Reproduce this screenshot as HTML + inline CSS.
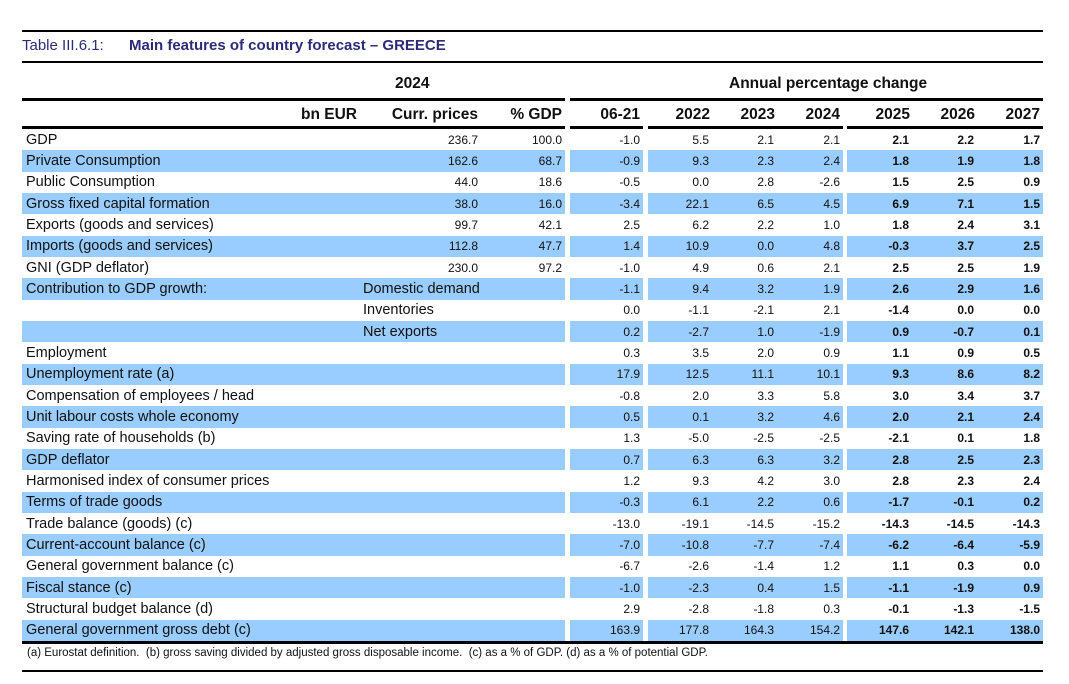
<!DOCTYPE html>
<html><head><meta charset="utf-8"><style>
body{margin:0;background:#fff;width:1069px;height:684px;position:relative;overflow:hidden;font-family:"Liberation Sans",sans-serif;color:#111}
.a{position:absolute}
.ln{position:absolute;background:#000}
table{position:absolute;left:22px;top:129px;border-collapse:collapse;table-layout:fixed}
td{height:21.33px;padding:0;font-size:12px;text-align:right;white-space:nowrap;overflow:visible;line-height:16px;vertical-align:middle}
td.l{text-align:left;font-size:14.5px;padding-left:4px}
td.g{background:#fff!important}
tr.b td{background:#99ccff}
td.f{font-weight:bold}
td.n{padding-right:3px}
.h{font-weight:bold;font-size:15.5px}
</style></head><body>
<div class="ln" style="left:22px;top:30px;width:1021px;height:2px"></div>
<div class="a" style="left:22px;top:37px;font-size:15px;color:#2b2b7a">Table III.6.1:</div>
<div class="a" style="left:129px;top:37px;font-size:15px;font-weight:bold;color:#2b2b7a">Main features of country forecast – GREECE</div>
<div class="ln" style="left:22px;top:61px;width:1021px;height:2px"></div>
<div class="a h" style="left:395px;top:75px">2024</div>
<div class="a h" style="left:729px;top:75px">Annual percentage change</div>
<div class="ln" style="left:22px;top:98px;width:543px;height:3px"></div>
<div class="ln" style="left:570px;top:98px;width:473px;height:3px"></div>
<div class="a h" style="left:22px;top:106px;width:335px;text-align:right">bn EUR</div>
<div class="a h" style="left:357px;top:106px;width:121px;text-align:right">Curr. prices</div>
<div class="a h" style="left:481px;top:106px;width:81px;text-align:right">% GDP</div>
<div class="a h" style="left:570px;top:106px;width:70px;text-align:right">06-21</div>
<div class="a h" style="left:648px;top:106px;width:62px;text-align:right">2022</div>
<div class="a h" style="left:712px;top:106px;width:63px;text-align:right">2023</div>
<div class="a h" style="left:777px;top:106px;width:63px;text-align:right">2024</div>
<div class="a h" style="left:847px;top:106px;width:63px;text-align:right">2025</div>
<div class="a h" style="left:912px;top:106px;width:63px;text-align:right">2026</div>
<div class="a h" style="left:977px;top:106px;width:63px;text-align:right">2027</div>
<div class="ln" style="left:22px;top:126px;width:543px;height:3px"></div>
<div class="ln" style="left:570px;top:126px;width:73px;height:3px"></div>
<div class="ln" style="left:648px;top:126px;width:195px;height:3px"></div>
<div class="ln" style="left:847px;top:126px;width:196px;height:3px"></div>
<table>
<colgroup><col style="width:335px"><col style="width:124px"><col style="width:84px"><col style="width:5px"><col style="width:73px"><col style="width:5px"><col style="width:64px"><col style="width:65px"><col style="width:66px"><col style="width:4px"><col style="width:65px"><col style="width:65px"><col style="width:66px"></colgroup>
<tr><td class="l">GDP</td><td class="n">236.7</td><td class="n">100.0</td><td class="g"></td><td class="n">-1.0</td><td class="g"></td><td class="n">5.5</td><td class="n">2.1</td><td class="n">2.1</td><td class="g"></td><td class="n f">2.1</td><td class="n f">2.2</td><td class="n f">1.7</td></tr>
<tr class="b"><td class="l">Private Consumption</td><td class="n">162.6</td><td class="n">68.7</td><td class="g"></td><td class="n">-0.9</td><td class="g"></td><td class="n">9.3</td><td class="n">2.3</td><td class="n">2.4</td><td class="g"></td><td class="n f">1.8</td><td class="n f">1.9</td><td class="n f">1.8</td></tr>
<tr><td class="l">Public Consumption</td><td class="n">44.0</td><td class="n">18.6</td><td class="g"></td><td class="n">-0.5</td><td class="g"></td><td class="n">0.0</td><td class="n">2.8</td><td class="n">-2.6</td><td class="g"></td><td class="n f">1.5</td><td class="n f">2.5</td><td class="n f">0.9</td></tr>
<tr class="b"><td class="l">Gross fixed capital formation</td><td class="n">38.0</td><td class="n">16.0</td><td class="g"></td><td class="n">-3.4</td><td class="g"></td><td class="n">22.1</td><td class="n">6.5</td><td class="n">4.5</td><td class="g"></td><td class="n f">6.9</td><td class="n f">7.1</td><td class="n f">1.5</td></tr>
<tr><td class="l">Exports (goods and services)</td><td class="n">99.7</td><td class="n">42.1</td><td class="g"></td><td class="n">2.5</td><td class="g"></td><td class="n">6.2</td><td class="n">2.2</td><td class="n">1.0</td><td class="g"></td><td class="n f">1.8</td><td class="n f">2.4</td><td class="n f">3.1</td></tr>
<tr class="b"><td class="l">Imports (goods and services)</td><td class="n">112.8</td><td class="n">47.7</td><td class="g"></td><td class="n">1.4</td><td class="g"></td><td class="n">10.9</td><td class="n">0.0</td><td class="n">4.8</td><td class="g"></td><td class="n f">-0.3</td><td class="n f">3.7</td><td class="n f">2.5</td></tr>
<tr><td class="l">GNI (GDP deflator)</td><td class="n">230.0</td><td class="n">97.2</td><td class="g"></td><td class="n">-1.0</td><td class="g"></td><td class="n">4.9</td><td class="n">0.6</td><td class="n">2.1</td><td class="g"></td><td class="n f">2.5</td><td class="n f">2.5</td><td class="n f">1.9</td></tr>
<tr class="b"><td class="l">Contribution to GDP growth:</td><td class="l" colspan="2" style="padding-left:6px">Domestic demand</td><td class="g"></td><td class="n">-1.1</td><td class="g"></td><td class="n">9.4</td><td class="n">3.2</td><td class="n">1.9</td><td class="g"></td><td class="n f">2.6</td><td class="n f">2.9</td><td class="n f">1.6</td></tr>
<tr><td class="l"></td><td class="l" colspan="2" style="padding-left:6px">Inventories</td><td class="g"></td><td class="n">0.0</td><td class="g"></td><td class="n">-1.1</td><td class="n">-2.1</td><td class="n">2.1</td><td class="g"></td><td class="n f">-1.4</td><td class="n f">0.0</td><td class="n f">0.0</td></tr>
<tr class="b"><td class="l"></td><td class="l" colspan="2" style="padding-left:6px">Net exports</td><td class="g"></td><td class="n">0.2</td><td class="g"></td><td class="n">-2.7</td><td class="n">1.0</td><td class="n">-1.9</td><td class="g"></td><td class="n f">0.9</td><td class="n f">-0.7</td><td class="n f">0.1</td></tr>
<tr><td class="l">Employment</td><td></td><td></td><td class="g"></td><td class="n">0.3</td><td class="g"></td><td class="n">3.5</td><td class="n">2.0</td><td class="n">0.9</td><td class="g"></td><td class="n f">1.1</td><td class="n f">0.9</td><td class="n f">0.5</td></tr>
<tr class="b"><td class="l">Unemployment rate (a)</td><td></td><td></td><td class="g"></td><td class="n">17.9</td><td class="g"></td><td class="n">12.5</td><td class="n">11.1</td><td class="n">10.1</td><td class="g"></td><td class="n f">9.3</td><td class="n f">8.6</td><td class="n f">8.2</td></tr>
<tr><td class="l">Compensation of employees / head</td><td></td><td></td><td class="g"></td><td class="n">-0.8</td><td class="g"></td><td class="n">2.0</td><td class="n">3.3</td><td class="n">5.8</td><td class="g"></td><td class="n f">3.0</td><td class="n f">3.4</td><td class="n f">3.7</td></tr>
<tr class="b"><td class="l">Unit labour costs whole economy</td><td></td><td></td><td class="g"></td><td class="n">0.5</td><td class="g"></td><td class="n">0.1</td><td class="n">3.2</td><td class="n">4.6</td><td class="g"></td><td class="n f">2.0</td><td class="n f">2.1</td><td class="n f">2.4</td></tr>
<tr><td class="l">Saving rate of households (b)</td><td></td><td></td><td class="g"></td><td class="n">1.3</td><td class="g"></td><td class="n">-5.0</td><td class="n">-2.5</td><td class="n">-2.5</td><td class="g"></td><td class="n f">-2.1</td><td class="n f">0.1</td><td class="n f">1.8</td></tr>
<tr class="b"><td class="l">GDP deflator</td><td></td><td></td><td class="g"></td><td class="n">0.7</td><td class="g"></td><td class="n">6.3</td><td class="n">6.3</td><td class="n">3.2</td><td class="g"></td><td class="n f">2.8</td><td class="n f">2.5</td><td class="n f">2.3</td></tr>
<tr><td class="l">Harmonised index of consumer prices</td><td></td><td></td><td class="g"></td><td class="n">1.2</td><td class="g"></td><td class="n">9.3</td><td class="n">4.2</td><td class="n">3.0</td><td class="g"></td><td class="n f">2.8</td><td class="n f">2.3</td><td class="n f">2.4</td></tr>
<tr class="b"><td class="l">Terms of trade goods</td><td></td><td></td><td class="g"></td><td class="n">-0.3</td><td class="g"></td><td class="n">6.1</td><td class="n">2.2</td><td class="n">0.6</td><td class="g"></td><td class="n f">-1.7</td><td class="n f">-0.1</td><td class="n f">0.2</td></tr>
<tr><td class="l">Trade balance (goods) (c)</td><td></td><td></td><td class="g"></td><td class="n">-13.0</td><td class="g"></td><td class="n">-19.1</td><td class="n">-14.5</td><td class="n">-15.2</td><td class="g"></td><td class="n f">-14.3</td><td class="n f">-14.5</td><td class="n f">-14.3</td></tr>
<tr class="b"><td class="l">Current-account balance (c)</td><td></td><td></td><td class="g"></td><td class="n">-7.0</td><td class="g"></td><td class="n">-10.8</td><td class="n">-7.7</td><td class="n">-7.4</td><td class="g"></td><td class="n f">-6.2</td><td class="n f">-6.4</td><td class="n f">-5.9</td></tr>
<tr><td class="l">General government balance (c)</td><td></td><td></td><td class="g"></td><td class="n">-6.7</td><td class="g"></td><td class="n">-2.6</td><td class="n">-1.4</td><td class="n">1.2</td><td class="g"></td><td class="n f">1.1</td><td class="n f">0.3</td><td class="n f">0.0</td></tr>
<tr class="b"><td class="l">Fiscal stance (c)</td><td></td><td></td><td class="g"></td><td class="n">-1.0</td><td class="g"></td><td class="n">-2.3</td><td class="n">0.4</td><td class="n">1.5</td><td class="g"></td><td class="n f">-1.1</td><td class="n f">-1.9</td><td class="n f">0.9</td></tr>
<tr><td class="l">Structural budget balance (d)</td><td></td><td></td><td class="g"></td><td class="n">2.9</td><td class="g"></td><td class="n">-2.8</td><td class="n">-1.8</td><td class="n">0.3</td><td class="g"></td><td class="n f">-0.1</td><td class="n f">-1.3</td><td class="n f">-1.5</td></tr>
<tr class="b"><td class="l">General government gross debt (c)</td><td></td><td></td><td class="g"></td><td class="n">163.9</td><td class="g"></td><td class="n">177.8</td><td class="n">164.3</td><td class="n">154.2</td><td class="g"></td><td class="n f">147.6</td><td class="n f">142.1</td><td class="n f">138.0</td></tr>
</table>
<div class="ln" style="left:22px;top:641px;width:1021px;height:3px"></div>
<div class="a" style="left:27px;top:647px;font-size:11.5px">(a) Eurostat definition.&nbsp; (b) gross saving divided by adjusted gross disposable income.&nbsp; (c) as a % of GDP. (d) as a % of potential GDP.</div>
<div class="ln" style="left:22px;top:670px;width:1021px;height:2px"></div>
</body></html>
